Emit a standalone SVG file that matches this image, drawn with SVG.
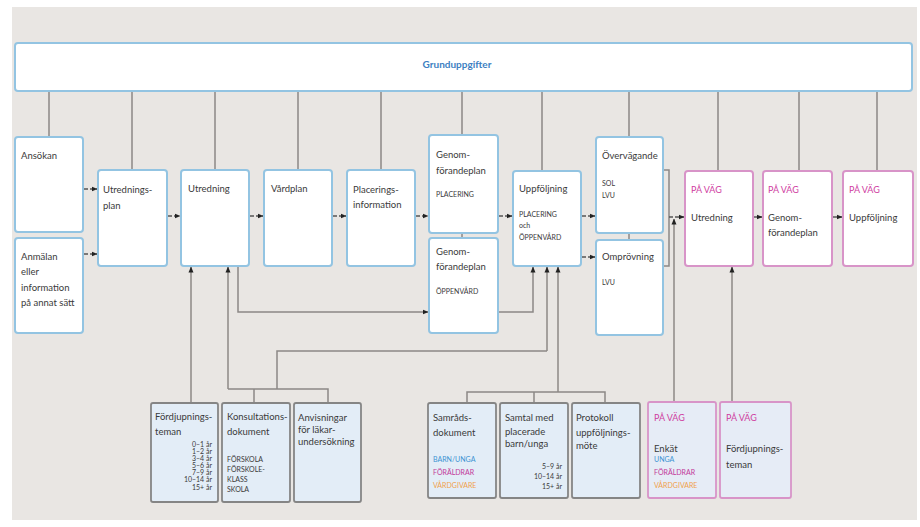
<svg xmlns="http://www.w3.org/2000/svg" width="920" height="527" viewBox="0 0 920 527">
<defs>
<marker id="ah" viewBox="0 0 6 6" refX="5.5" refY="3" markerWidth="6" markerHeight="6" orient="auto" markerUnits="userSpaceOnUse"><path d="M0,0.5 L6,3 L0,5.5 Z" fill="#222"/></marker>
<style>
.bg{fill:#e9e6e3}
.m{fill:#fff;stroke:#93c4e2;stroke-width:2}
.p{fill:#fff;stroke:#d894c8;stroke-width:2}
.b{fill:#e3edf7;stroke:#858585;stroke-width:1.8}
.bp{fill:#e6ecf6;stroke:#d894c8;stroke-width:1.8}
.c{fill:none;stroke:#8c8886;stroke-width:1.5}
.a{fill:none;stroke:#555;stroke-width:1.3;stroke-dasharray:4 2;marker-end:url(#ah)}
.ca{fill:none;stroke:#8c8886;stroke-width:1.5;marker-end:url(#ah)}
text{font-family:"Lato","Liberation Sans",sans-serif;font-size:9.5px;fill:#3a3a3a}
.s{font-size:7px}
.pk{fill:#cf3d9f;font-size:9px}
.bl{fill:#3b93d3;font-size:7px}
.mg{fill:#c2399a;font-size:7px}
.or{fill:#f0a04a;font-size:7px}
.g{fill:#3d7fc2;font-weight:bold;font-size:10px}
</style>
</defs>
<rect class="bg" x="12" y="7" width="905" height="513"/>
<g id="connectors">
<path class="c" d="M49,91V137M132,91V170M215,91V170M298,91V170M381,91V170M462,91V135M542,91V171M629,91V137M718,91V171M799,91V171M877,91V171"/>
<path class="c" d="M462,233V238M629,233V240"/>
<path class="c" d="M663,170H669V266H663"/>
<path class="a" d="M84,189H97"/>
<path class="a" d="M84,254H97"/>
<path class="a" d="M168,216H180"/>
<path class="a" d="M250,216H263"/>
<path class="a" d="M333,216H346"/>
<path class="a" d="M416,216H428"/>
<path class="a" d="M499,216H512"/>
<path class="a" d="M582,216H595"/>
<path class="a" d="M582,257H595"/>
<path class="a" d="M669,217H684"/>
<path class="a" d="M754,217H762"/>
<path class="a" d="M833,217H842"/>
<path class="ca" d="M191,403V267"/>
<path class="ca" d="M228,389V267"/>
<path class="c" d="M228,389H328V403M254,389V403"/>
<path class="c" d="M277,389V351H547"/>
<path class="ca" d="M547,351V267"/>
<path class="ca" d="M238,266V312H428"/>
<path class="ca" d="M498,312H533V267"/>
<path class="ca" d="M558,392V267"/>
<path class="c" d="M467,403V392H605V403M534,392V403"/>
<path class="ca" d="M674,402V219"/>
<path class="ca" d="M732,402V267"/>
</g>
<g id="grunduppgifter"><rect class="m" x="15" y="43" width="897" height="48" rx="3"/><text class="g" x="457" y="68" text-anchor="middle">Grunduppgifter</text></g>
<g id="ansokan"><rect class="m" x="15" y="137" width="68" height="95" rx="3"/><text x="21" y="159">Ansökan</text></g>
<g id="anmalan"><rect class="m" x="15" y="238" width="68" height="95" rx="3"/><text x="21" y="260">Anmälan</text><text x="21" y="275">eller</text><text x="21" y="291">information</text><text x="21" y="306">på annat sätt</text></g>
<g id="utredningsplan"><rect class="m" x="98" y="170" width="69" height="96" rx="3"/><text x="103" y="193">Utrednings-</text><text x="103" y="209">plan</text></g>
<g id="utredning"><rect class="m" x="181" y="170" width="68" height="96" rx="3"/><text x="188" y="192">Utredning</text></g>
<g id="vardplan"><rect class="m" x="264" y="170" width="68" height="96" rx="3"/><text x="271" y="192">Vårdplan</text></g>
<g id="placeringsinformation"><rect class="m" x="347" y="170" width="68" height="96" rx="3"/><text x="353" y="193">Placerings-</text><text x="353" y="208">information</text></g>
<g id="genom-placering"><rect class="m" x="429" y="135" width="69" height="98" rx="3"/><text x="436" y="158">Genom-</text><text x="436" y="174">förandeplan</text><text class="s" x="436" y="197">PLACERING</text></g>
<g id="genom-oppenvard"><rect class="m" x="429" y="238" width="69" height="95" rx="3"/><text x="436" y="255">Genom-</text><text x="436" y="270">förandeplan</text><text class="s" x="436" y="294">ÖPPENVÅRD</text></g>
<g id="uppfoljning"><rect class="m" x="513" y="171" width="68" height="95" rx="3"/><text x="519" y="192">Uppföljning</text><text class="s" x="519" y="217">PLACERING</text><text class="s" x="519" y="228">och</text><text class="s" x="519" y="240">ÖPPENVÅRD</text></g>
<g id="overvagande"><rect class="m" x="596" y="137" width="67" height="96" rx="3"/><text x="602" y="159">Övervägande</text><text class="s" x="602" y="186">SOL</text><text class="s" x="602" y="198">LVU</text></g>
<g id="omprovning"><rect class="m" x="596" y="240" width="67" height="95" rx="3"/><text x="602" y="260">Omprövning</text><text class="s" x="602" y="285">LVU</text></g>
<g id="pavag-utredning"><rect class="p" x="685" y="171" width="68" height="95" rx="3"/><text class="pk" x="691" y="193">PÅ VÄG</text><text x="691" y="221">Utredning</text></g>
<g id="pavag-genomforandeplan"><rect class="p" x="763" y="171" width="69" height="95" rx="3"/><text class="pk" x="768" y="193">PÅ VÄG</text><text x="768" y="221">Genom-</text><text x="768" y="236">förandeplan</text></g>
<g id="pavag-uppfoljning"><rect class="p" x="843" y="171" width="70" height="95" rx="3"/><text class="pk" x="849" y="193">PÅ VÄG</text><text x="849" y="221">Uppföljning</text></g>
<g id="fordjupningsteman"><rect class="b" x="151" y="403" width="67" height="99" rx="2"/><text x="155" y="420">Fördjupnings-</text><text x="155" y="435">teman</text>
<g text-anchor="end"><text class="s" x="212" y="447">0–1 år</text><text class="s" x="212" y="454">1–2 år</text><text class="s" x="212" y="461">3–4 år</text><text class="s" x="212" y="468">5–6 år</text><text class="s" x="212" y="475">7–9 år</text><text class="s" x="212" y="482">10–14 år</text><text class="s" x="212" y="490">15+ år</text></g></g>
<g id="konsultationsdokument"><rect class="b" x="222" y="403" width="68" height="99" rx="2"/><text x="227" y="420">Konsultations-</text><text x="227" y="435">dokument</text><text class="s" x="227" y="462">FÖRSKOLA</text><text class="s" x="227" y="472">FÖRSKOLE-</text><text class="s" x="227" y="482">KLASS</text><text class="s" x="227" y="492">SKOLA</text></g>
<g id="anvisningar"><rect class="b" x="294" y="403" width="67" height="99" rx="2"/><text x="298" y="421">Anvisningar</text><text x="298" y="433">för läkar-</text><text x="298" y="445">undersökning</text></g>
<g id="samradsdokument"><rect class="b" x="428" y="403" width="68" height="95" rx="2"/><text x="433" y="421">Samråds-</text><text x="433" y="436">dokument</text><text class="bl" x="433" y="462">BARN/UNGA</text><text class="mg" x="433" y="475">FÖRÄLDRAR</text><text class="or" x="433" y="488">VÅRDGIVARE</text></g>
<g id="samtal"><rect class="b" x="500" y="403" width="68" height="95" rx="2"/><text x="505" y="421">Samtal med</text><text x="505" y="435">placerade</text><text x="505" y="447">barn/unga</text><g text-anchor="end"><text class="s" x="562" y="469">5–9 år</text><text class="s" x="562" y="479">10–14 år</text><text class="s" x="562" y="489">15+ år</text></g></g>
<g id="protokoll"><rect class="b" x="572" y="403" width="68" height="95" rx="2"/><text x="576" y="421">Protokoll</text><text x="576" y="436">uppföljnings-</text><text x="576" y="449">möte</text></g>
<g id="pavag-enkat"><rect class="bp" x="648" y="402" width="68" height="96" rx="2"/><text class="pk" x="654" y="421">PÅ VÄG</text><text x="654" y="452">Enkät</text><text class="bl" x="654" y="462">UNGA</text><text class="mg" x="654" y="475">FÖRÄLDRAR</text><text class="or" x="654" y="488">VÅRDGIVARE</text></g>
<g id="pavag-fordjupningsteman"><rect class="bp" x="720" y="402" width="71" height="96" rx="2"/><text class="pk" x="726" y="421">PÅ VÄG</text><text x="726" y="452">Fördjupnings-</text><text x="726" y="468">teman</text></g>
</svg>
